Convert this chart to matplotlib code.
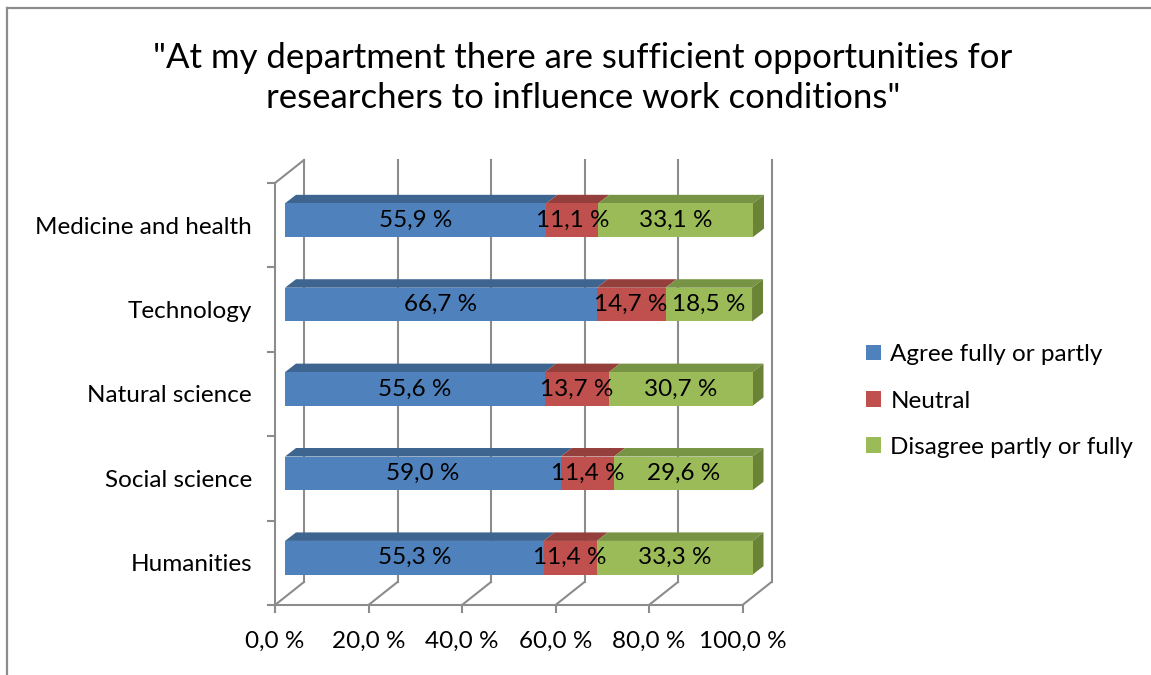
import numpy as np
import matplotlib
matplotlib.use('Agg')
import matplotlib.pyplot as plt
from matplotlib.patches import Polygon, Patch
from matplotlib.lines import Line2D
from matplotlib.transforms import offset_copy

# Data (top to bottom as shown)
categories = ['Medicine and health', 'Technology', 'Natural science', 'Social science', 'Humanities']
agree = [55.9, 66.7, 55.6, 59.0, 55.3]
neutral = [11.1, 14.7, 13.7, 11.4, 11.4]
disagree = [33.1, 18.5, 30.7, 29.6, 33.3]
series_names = ['Agree fully or partly', 'Neutral', 'Disagree partly or fully']
x_ticks = [0, 20, 40, 60, 80, 100]
title = '"At my department there are sufficient opportunities for\nresearchers to influence work conditions"'

face_cols = ['#4F81BD', '#C0504D', '#9BBB59']
top_cols = ['#3D6590', '#953F3C', '#779344']
side_col = '#6A8337'
grid_col = '#8C8C8C'

plt.rcParams['font.family'] = ['Lato', 'DejaVu Sans']
fs = 17.5

W, H, DPI = 1151, 675, 100
fig = plt.figure(figsize=(W / DPI, H / DPI), dpi=DPI)

# bar plane in pixels (image coords, y down)
x0_px, x1_px = 285, 752.5
ytop_px, ybot_px = 178, 600
ax = fig.add_axes([x0_px / W, (H - ybot_px) / H, (x1_px - x0_px) / W, (ybot_px - ytop_px) / H])
ax.set_xlim(0, 100)
ax.set_ylim(-0.5, len(categories) - 0.5)
ax.axis('off')

px_x = 100 / (x1_px - x0_px)           # data units per pixel (x)
px_y = len(categories) / (ybot_px - ytop_px)  # data units per pixel (y)

front = offset_copy(ax.transData, fig=fig, x=-10, y=-5, units='dots')
back = offset_copy(ax.transData, fig=fig, x=19, y=18, units='dots')

ymin, ymax = -0.5, len(categories) - 0.5
lw = 1.5

# back wall gridlines
for t in x_ticks:
    ax.plot([t, t], [ymin, ymax], color=grid_col, lw=lw, transform=back, clip_on=False, zorder=1)
# floor: front axis line + depth diagonals
ax.plot([0, 100], [ymin, ymin], color=grid_col, lw=lw, transform=front, clip_on=False, zorder=1)
for t in x_ticks:
    fx, fy = front.transform((t, ymin))
    bx, by = back.transform((t, ymin))
    fig.add_artist(Line2D([fx / W, bx / W], [fy / H, by / H], color=grid_col, lw=lw, zorder=1))
    fig.add_artist(Line2D([fx / W, fx / W], [fy / H, (fy - 7) / H], color=grid_col, lw=lw, zorder=1))
    ax.text(t, ymin, f"{t:.1f}".replace('.', ',') + ' %', transform=offset_copy(front, fig=fig, y=-36, units='dots'),
            ha='center', va='center', fontsize=fs, color='black')
# left wall: front y axis and top diagonal
ax.plot([0, 0], [ymin, ymax], color=grid_col, lw=lw, transform=front, clip_on=False, zorder=1)
fx, fy = front.transform((0, ymax))
bx, by = back.transform((0, ymax))
fig.add_artist(Line2D([fx / W, bx / W], [fy / H, by / H], color=grid_col, lw=lw, zorder=1))
for k in range(len(categories) + 1):
    fx, fy = front.transform((0, ymin + k))
    fig.add_artist(Line2D([(fx - 7) / W, fx / W], [fy / H, fy / H], color=grid_col, lw=lw, zorder=1))

# bars with 3D faces
ypos = np.arange(len(categories))[::-1]
bh = 0.40
dx, dy = 11 * px_x, 8.5 * px_y
lefts = np.zeros(len(categories))
for vals, fc, tc in zip([agree, neutral, disagree], face_cols, top_cols):
    vals = np.array(vals)
    ax.barh(ypos, vals, left=lefts, height=bh, color=fc, zorder=3)
    for y, l, v in zip(ypos, lefts, vals):
        top = y + bh / 2
        ax.add_patch(Polygon([(l, top), (l + v, top), (l + v + dx, top + dy), (l + dx, top + dy)],
                             closed=True, facecolor=tc, edgecolor='none', zorder=2.5, clip_on=False))
        ax.text(l + v / 2, y, f"{v:.1f}".replace('.', ',') + ' %', ha='center', va='center',
                fontsize=fs, color='black', zorder=5)
    lefts = lefts + vals
for y, r in zip(ypos, lefts):
    ax.add_patch(Polygon([(r, y - bh / 2), (r, y + bh / 2), (r + dx, y + bh / 2 + dy), (r + dx, y - bh / 2 + dy)],
                         closed=True, facecolor=side_col, edgecolor='none', zorder=2.5, clip_on=False))

# category labels (front plane)
for y, c in zip(ypos, categories):
    ax.text(0, y, c, transform=offset_copy(front, fig=fig, x=-23, y=-2, units='dots'),
            ha='right', va='center', fontsize=fs, color='black')

# legend
handles = [Patch(facecolor=c, edgecolor='none') for c in face_cols]
fig.legend(handles, series_names, loc='center left', bbox_to_anchor=(866 / W, (H - 401) / H),
           frameon=False, fontsize=fs, handlelength=0.6, handleheight=0.6, handletextpad=0.4,
           labelspacing=1.04, borderpad=0, borderaxespad=0)

# title
fig.text(583 / W, (H - 78) / H, title, ha='center', va='center', fontsize=25, linespacing=1.3)

# chart border
fig.add_artist(Line2D([7 / W, 1], [(H - 8) / H, (H - 8) / H], color='#8C8C8C', lw=1.6))
fig.add_artist(Line2D([7 / W, 7 / W], [0, (H - 8) / H], color='#8C8C8C', lw=1.6))

fig.savefig('out.png', dpi=DPI)
